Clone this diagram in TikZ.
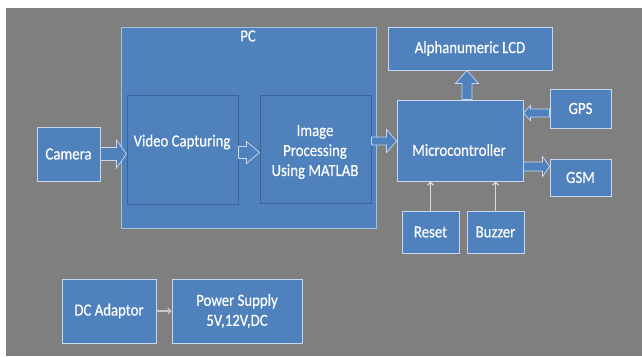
\documentclass[tikz,border=0pt]{standalone}
\usepackage{fontspec}
\setmainfont{Carlito}[FakeStretch=0.87,FakeBold=0.4]
\usetikzlibrary{calc,arrows.meta}

\definecolor{bggray}{HTML}{7F7F7F}
\definecolor{boxblue}{HTML}{4F81BD}
\definecolor{lightedge}{HTML}{C6D9F1}
\definecolor{darkedge}{HTML}{3A6596}
\definecolor{wireclr}{HTML}{DCDCDC}

% Block arrow from tail #1 to tip #2: half shaft #3, half head #4, head length #5
\newcommand{\blockarrow}[5]{%
  \coordinate (ba-base) at ($(#2)!#5!(#1)$);
  \filldraw[fatarrow]
    ($(#1)!#3!90:(#2)$) -- ($(ba-base)!#3!-90:(#1)$) -- ($(ba-base)!#4!-90:(#1)$)
    -- (#2) -- ($(ba-base)!#4!90:(#1)$) -- ($(ba-base)!#3!90:(#1)$)
    -- ($(#1)!#3!-90:(#2)$) -- cycle;}

\begin{document}
\begin{tikzpicture}[x=1pt,y=-1pt,
  txt/.style={text=white,font=\fontsize{17}{20}\selectfont,align=center,inner sep=0pt},
  blk/.style={draw=lightedge,fill=boxblue,line width=0.9pt,inner sep=0pt,txt},
  inner/.style={draw=darkedge,fill=boxblue,line width=1pt,inner sep=0pt},
  fatarrow/.style={fill=boxblue,draw=lightedge,line width=0.7pt,line join=miter},
  wire/.style={draw=wireclr,line width=1.1pt,-{Straight Barb[length=3pt,width=6pt]}},
]
\useasboundingbox (0,0) rectangle (642,356);
\fill[white] (0,0) rectangle (642,356);
\fill[bggray] (6,8) rectangle (642,356);

% PC enclosure and its two stages
\node[draw=lightedge!70!boxblue,fill=boxblue,line width=0.8pt,minimum width=255pt,minimum height=201pt] (pc) at (248.5,127.5) {};
\node[txt] (pclabel) at (248,36) {PC};
\node[inner,minimum width=111pt,minimum height=109pt] (vid) at (182.5,149.5) {};
\node[txt] (vidtxt) at (182,142) {Video Capturing};
\node[inner,minimum width=111pt,minimum height=108pt] (imp) at (315.5,149.5) {};
\node[txt] (imptxt) at (315,152) {Image\\Processing\\Using MATLAB};

% Peripheral blocks
\node[blk,minimum width=63pt,minimum height=54pt] (cam) at (68.5,154) {Camera};
\node[blk,minimum width=126pt,minimum height=81pt] (mcu) at (460,140.5) {};
\node[txt] (mcutxt) at (459,150) {Microcontroller};
\node[blk,minimum width=164pt,minimum height=43pt] (lcd) at (470,48.5) {Alphanumeric LCD};
\node[blk,minimum width=61pt,minimum height=39pt] (gps) at (580.5,108.5) {GPS};
\node[blk,minimum width=61pt,minimum height=37pt] (gsm) at (580.5,177.5) {GSM};
\node[blk,minimum width=57pt,minimum height=42pt] (reset) at (430.5,232) {Reset};
\node[blk,minimum width=57pt,minimum height=42pt] (buzz) at (495.5,232) {Buzzer};
\node[blk,minimum width=94pt,minimum height=64pt] (dc) at (109,311) {DC Adaptor};
\node[blk,minimum width=130pt,minimum height=64pt] (psu) at (237,311) {Power Supply\\5V,12V,DC};

% Data-flow block arrows
\blockarrow{cam.east}{vid.west|-cam.east}{6.5pt}{14pt}{10pt}
\coordinate (vidout) at ($(vid.east)+(0,3)$);
\blockarrow{vidout}{imp.west|-vidout}{6pt}{11pt}{13pt}
\coordinate (impout) at ($(imp.east)+(0,-8.5)$);
\blockarrow{impout}{mcu.west|-impout}{4pt}{11.5pt}{10pt}
\coordinate (mcutop) at ($(mcu.north)+(7,0)$);
\blockarrow{mcutop}{lcd.south-|mcutop}{5pt}{11.5pt}{13pt}
\coordinate (gpsout) at ($(gps.west)+(0,4.5)$);
\blockarrow{gpsout}{mcu.east|-gpsout}{4pt}{7.5pt}{7pt}
\coordinate (mcuout) at ($(mcu.east)+(0,26)$);
\blockarrow{mcuout}{gsm.west|-mcuout}{4.5pt}{10pt}{7pt}

% Thin signal lines
\draw[wire] (reset.north) -- (mcu.south-|reset.north);
\draw[wire] (buzz.north) -- (mcu.south-|buzz.north);
\draw[wire,draw=wireclr!80!bggray] (dc.east) -- (psu.west);
\end{tikzpicture}
\end{document}
